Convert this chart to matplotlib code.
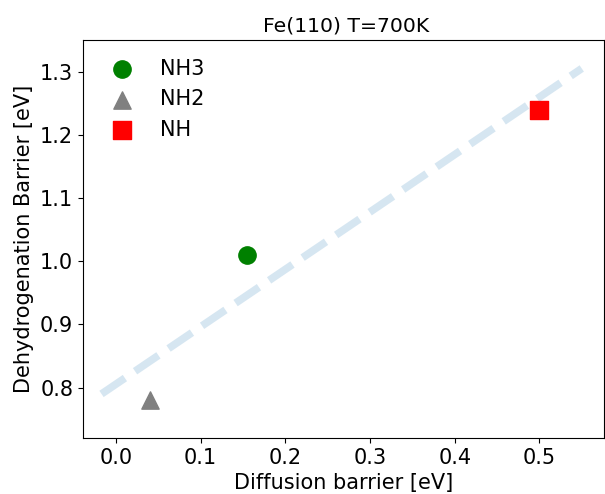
import matplotlib
matplotlib.use("Agg")
import matplotlib.pyplot as plt

species = ["NH3", "NH2", "NH"]
diffusion = [0.155, 0.04, 0.50]
dehydro = [1.01, 0.78, 1.24]
markers = ["o", "^", "s"]
colors = ["green", "gray", "red"]

trend_x = [-0.017, 0.55]
trend_y = [0.79, 1.305]

plt.rcParams['font.size'] = 15
fig, ax = plt.subplots(figsize=(6.05, 4.94), dpi=100)

ax.plot(trend_x, trend_y, linestyle="--", color="tab:blue", alpha=0.18, linewidth=5.5)
for name, x, y, m, c in zip(species, diffusion, dehydro, markers, colors):
    ax.scatter(x, y, marker=m, color=c, s=155, label=name)

ax.set_xlim(-0.039, 0.576)
ax.set_ylim(0.72, 1.35)
ax.set_xlabel("Diffusion barrier [eV]")
ax.set_ylabel("Dehydrogenation Barrier [eV]")
ax.set_title("Fe(110) T=700K", fontsize=14.7, x=0.505)
ax.legend(frameon=False, loc="upper left", fontsize=15)

fig.subplots_adjust(left=0.137, right=0.998, top=0.919, bottom=0.113)
plt.savefig("out.png", dpi=100)
